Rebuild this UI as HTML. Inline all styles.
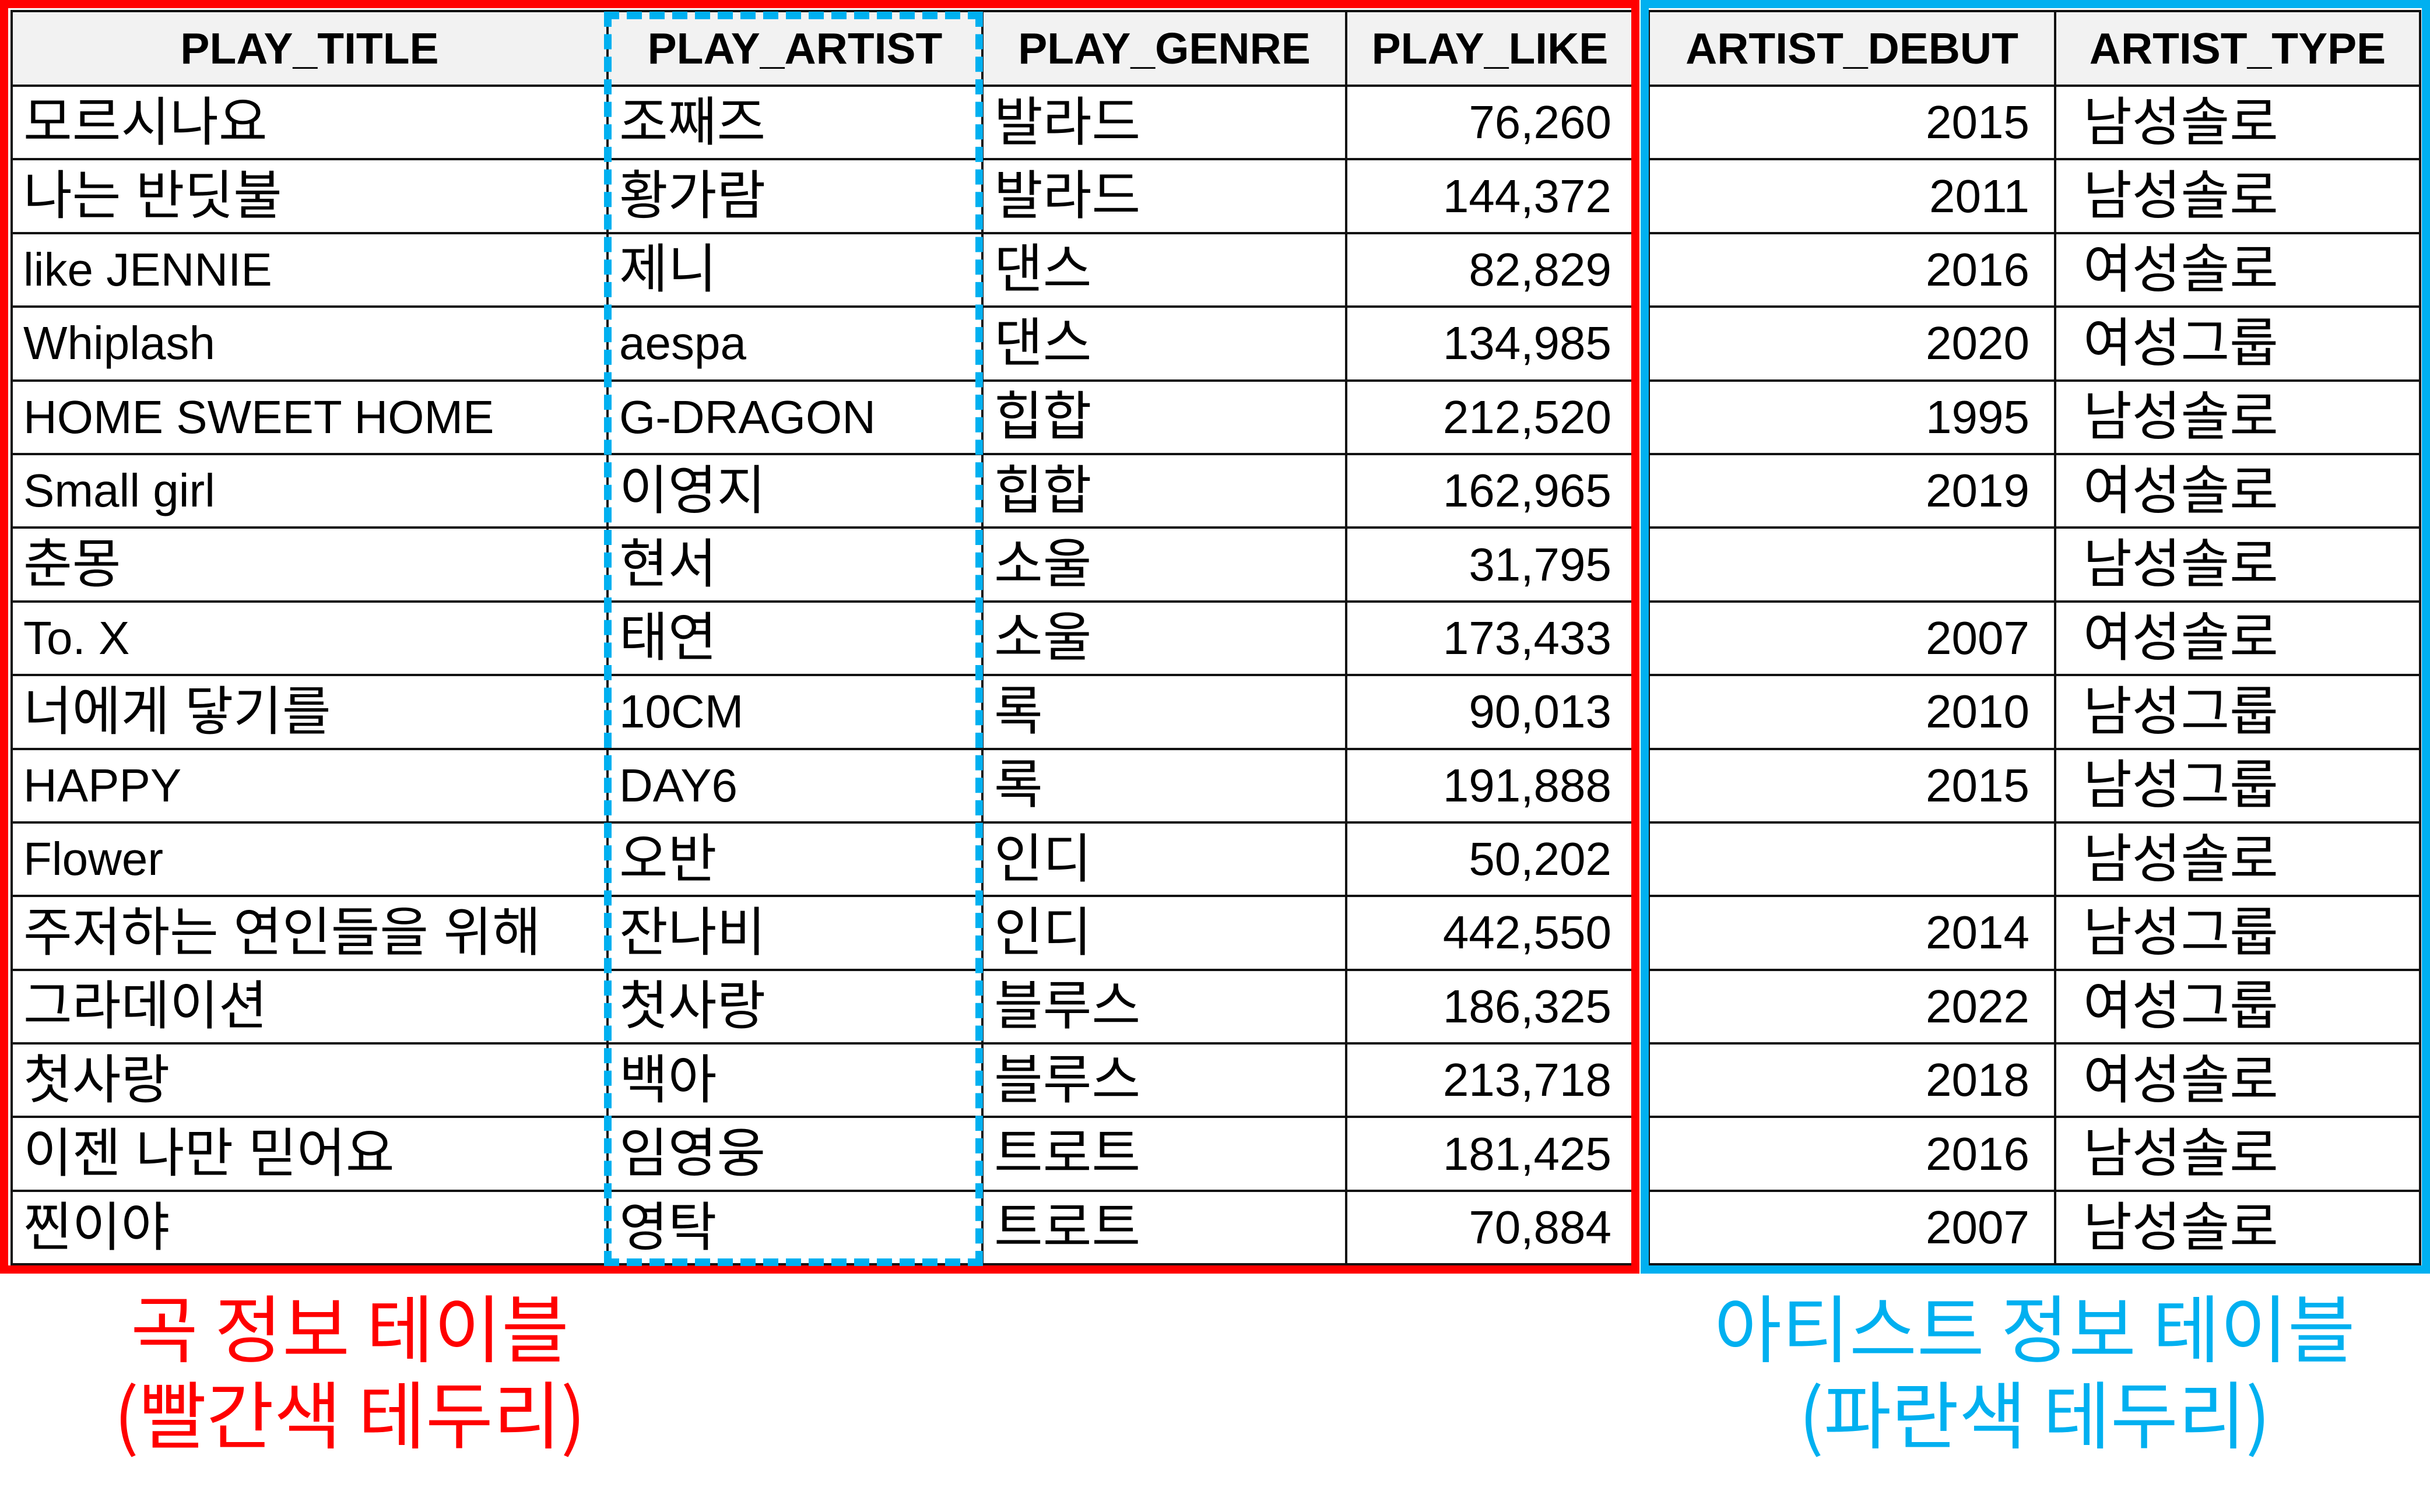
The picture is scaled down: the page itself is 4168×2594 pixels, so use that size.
<!DOCTYPE html>
<html><head><meta charset="utf-8">
<style>
*{margin:0;padding:0;box-sizing:border-box}
body{width:4168px;height:2594px;background:#fff;position:relative;overflow:hidden;font-family:"Liberation Sans","Noto Sans CJK KR",sans-serif;color:#000}
table{position:absolute;border-collapse:collapse;table-layout:fixed}
td,th{border:4px solid #111;font-size:80px;white-space:nowrap;overflow:hidden;height:126.4px;line-height:1;vertical-align:middle}
th{background:#f2f2f2;font-weight:bold;font-size:75px;height:128px;text-align:center}
td{padding:0 18px;font-size:80px}
td.k{font-size:91px}
td.n{text-align:right;padding-right:36px}
td.d{text-align:right;padding-right:42px}
#red{position:absolute;left:0;top:0;width:2812px;height:2185px;border:14px solid #ff0000}
#blue{position:absolute;left:2814px;top:0;width:1354px;height:2185px;border:14px solid #00b0f0}
#dash{position:absolute;left:1036px;top:20px;width:650px;height:2152px;border:13px dashed #00b0f0}
.lbl{position:absolute;font-size:126px;line-height:1;text-align:center;width:1400px;font-family:"Noto Sans CJK KR",sans-serif}
</style></head><body>
<table id="t1" style="left:18px;top:17px;width:2782px">
<colgroup><col style="width:1022px"><col style="width:643px"><col style="width:624px"><col style="width:493px"></colgroup>
<tr><th>PLAY_TITLE</th><th>PLAY_ARTIST</th><th>PLAY_GENRE</th><th>PLAY_LIKE</th></tr>
<tr><td class="k">모르시나요</td><td class="k">조째즈</td><td class="k">발라드</td><td class="n">76,260</td></tr>
<tr><td class="k">나는 반딧불</td><td class="k">황가람</td><td class="k">발라드</td><td class="n">144,372</td></tr>
<tr><td>like JENNIE</td><td class="k">제니</td><td class="k">댄스</td><td class="n">82,829</td></tr>
<tr><td>Whiplash</td><td>aespa</td><td class="k">댄스</td><td class="n">134,985</td></tr>
<tr><td>HOME SWEET HOME</td><td>G-DRAGON</td><td class="k">힙합</td><td class="n">212,520</td></tr>
<tr><td>Small girl</td><td class="k">이영지</td><td class="k">힙합</td><td class="n">162,965</td></tr>
<tr><td class="k">춘몽</td><td class="k">현서</td><td class="k">소울</td><td class="n">31,795</td></tr>
<tr><td>To. X</td><td class="k">태연</td><td class="k">소울</td><td class="n">173,433</td></tr>
<tr><td class="k">너에게 닿기를</td><td>10CM</td><td class="k">록</td><td class="n">90,013</td></tr>
<tr><td>HAPPY</td><td>DAY6</td><td class="k">록</td><td class="n">191,888</td></tr>
<tr><td>Flower</td><td class="k">오반</td><td class="k">인디</td><td class="n">50,202</td></tr>
<tr><td class="k">주저하는 연인들을 위해</td><td class="k">잔나비</td><td class="k">인디</td><td class="n">442,550</td></tr>
<tr><td class="k">그라데이션</td><td class="k">첫사랑</td><td class="k">블루스</td><td class="n">186,325</td></tr>
<tr><td class="k">첫사랑</td><td class="k">백아</td><td class="k">블루스</td><td class="n">213,718</td></tr>
<tr><td class="k">이젠 나만 믿어요</td><td class="k">임영웅</td><td class="k">트로트</td><td class="n">181,425</td></tr>
<tr><td class="k">찐이야</td><td class="k">영탁</td><td class="k">트로트</td><td class="n">70,884</td></tr>
</table>
<table id="t2" style="left:2826px;top:17px;width:1323px">
<colgroup><col style="width:697px"><col style="width:626px"></colgroup>
<tr><th>ARTIST_DEBUT</th><th>ARTIST_TYPE</th></tr>
<tr><td class="d">2015</td><td class="k" style="padding-left:46px">남성솔로</td></tr>
<tr><td class="d">2011</td><td class="k" style="padding-left:46px">남성솔로</td></tr>
<tr><td class="d">2016</td><td class="k" style="padding-left:46px">여성솔로</td></tr>
<tr><td class="d">2020</td><td class="k" style="padding-left:46px">여성그룹</td></tr>
<tr><td class="d">1995</td><td class="k" style="padding-left:46px">남성솔로</td></tr>
<tr><td class="d">2019</td><td class="k" style="padding-left:46px">여성솔로</td></tr>
<tr><td class="d"></td><td class="k" style="padding-left:46px">남성솔로</td></tr>
<tr><td class="d">2007</td><td class="k" style="padding-left:46px">여성솔로</td></tr>
<tr><td class="d">2010</td><td class="k" style="padding-left:46px">남성그룹</td></tr>
<tr><td class="d">2015</td><td class="k" style="padding-left:46px">남성그룹</td></tr>
<tr><td class="d"></td><td class="k" style="padding-left:46px">남성솔로</td></tr>
<tr><td class="d">2014</td><td class="k" style="padding-left:46px">남성그룹</td></tr>
<tr><td class="d">2022</td><td class="k" style="padding-left:46px">여성그룹</td></tr>
<tr><td class="d">2018</td><td class="k" style="padding-left:46px">여성솔로</td></tr>
<tr><td class="d">2016</td><td class="k" style="padding-left:46px">남성솔로</td></tr>
<tr><td class="d">2007</td><td class="k" style="padding-left:46px">남성솔로</td></tr>
</table>
<div id="red"></div>
<div id="blue"></div>
<div id="dash"></div>
<div class="lbl" style="left:-100px;top:2210px;color:#ff0000">곡 정보 테이블<br><span style="display:inline-block;margin-top:22px">(빨간색 테두리)</span></div>
<div class="lbl" style="left:2790px;top:2210px;color:#00b0f0">아티스트 정보 테이블<br><span style="display:inline-block;margin-top:22px">(파란색 테두리)</span></div>
</body></html>
